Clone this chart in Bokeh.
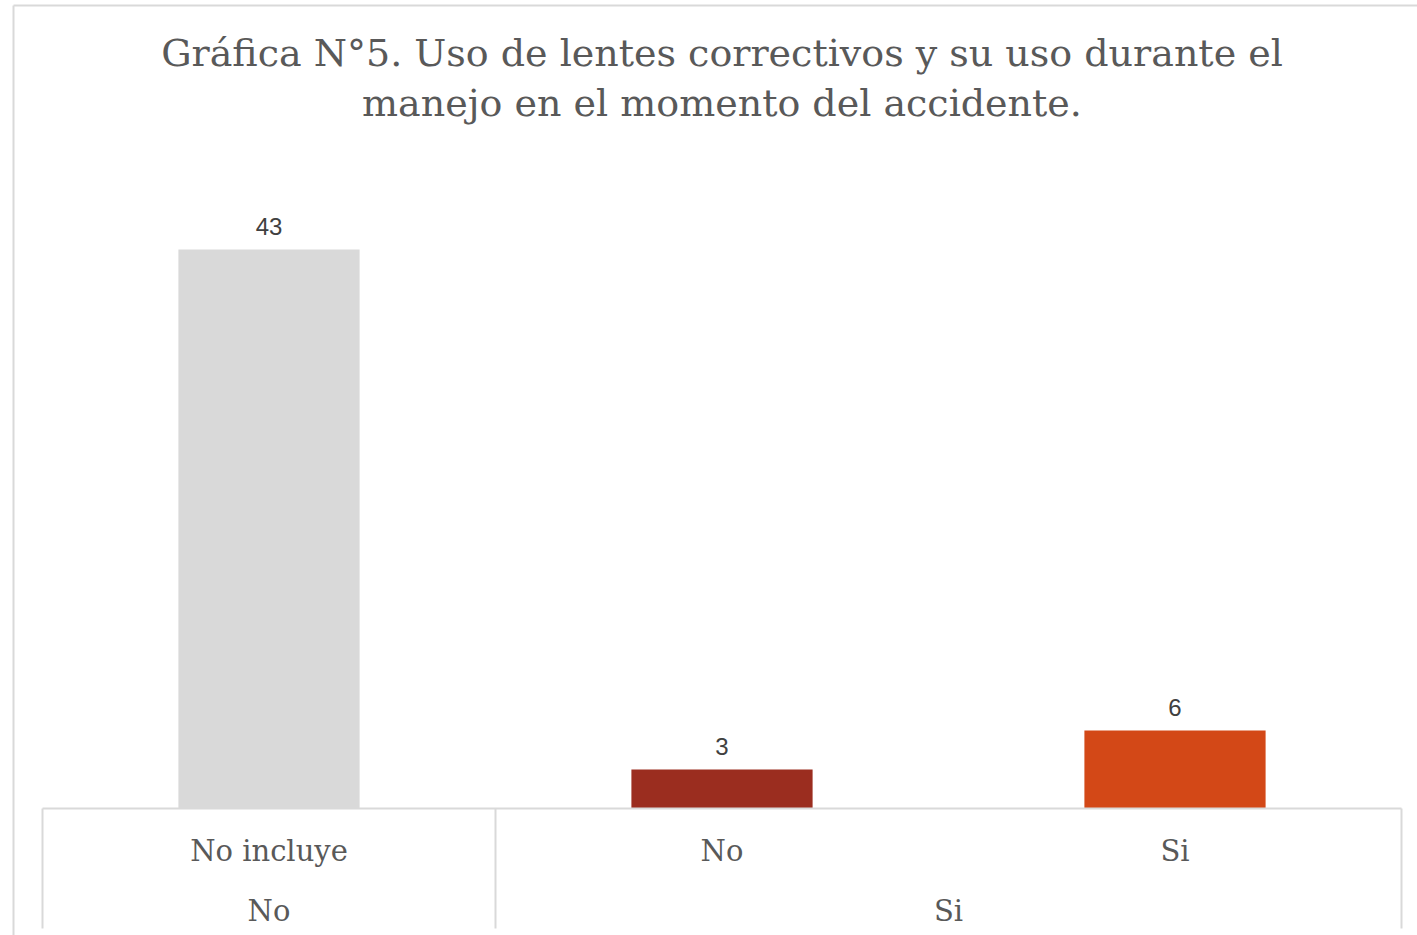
from bokeh.plotting import figure
from bokeh.models import Range1d, ColumnDataSource
from bokeh.core.properties import value
from bokeh.embed import file_html
from bokeh.resources import INLINE

# ---- data ----
groups = ["No", "Si", "Si"]
subcats = ["No incluye", "No", "Si"]
values = [43, 3, 6]
colors = ["#D9D9D9", "#9B2D1F", "#D34817"]
title_lines = ["Gráfica N°5. Uso de lentes correctivos y su uso durante el",
               "manejo en el momento del accidente."]

# ---- layout (pixels) ----
W, H = 1417, 935
LEFT = 42          # left edge of category area
CAT_W = 453        # width of one category
BASE = 808         # baseline pixel
UNIT = 13          # pixels per value unit
GRID = "#D9D9D9"
TXT = "#595959"
SERIF = value("DejaVu Serif")

def px_x(px):
    return (px - LEFT) / CAT_W

def px_y(py):
    return (BASE - py) / UNIT

n = len(values)
p = figure(width=W, height=H, output_backend="svg", toolbar_location=None,
           x_range=Range1d(px_x(0), px_x(W)), y_range=Range1d(px_y(H), px_y(0)),
           min_border=0, x_axis_location=None, y_axis_location=None)
p.grid.visible = False
p.outline_line_color = None
p.background_fill_color = "white"
p.border_fill_color = "white"

# outer chart border (extends beyond window on right/bottom)
p.segment(x0=[px_x(13), px_x(13)], y0=[px_y(5), px_y(5)],
          x1=[px_x(W + 20), px_x(13)], y1=[px_y(5), px_y(H + 20)],
          line_color=GRID, line_width=2)

# bars
xs = [i + 0.5 for i in range(n)]
src = ColumnDataSource(dict(x=xs, top=values, color=colors,
                            lab=[str(v) for v in values], sub=subcats))
p.vbar(x="x", top="top", bottom=0, width=0.4, fill_color="color",
       line_color=None, source=src)

# value labels
p.text(x="x", y="top", text="lab", source=src, y_offset=-15,
       text_align="center", text_baseline="bottom",
       text_font=value("Liberation Sans"), text_font_size="24px",
       text_color="#404040")

# category table
table_bottom = px_y(928)
p.segment(x0=[0], y0=[0], x1=[n], y1=[0], line_color=GRID, line_width=2)
bounds = [0] + [i for i in range(1, n) if groups[i] != groups[i - 1]] + [n]
p.segment(x0=bounds, y0=[0] * len(bounds), x1=bounds,
          y1=[table_bottom] * len(bounds), line_color=GRID, line_width=2)

p.text(x="x", y=0, text="sub", source=src, y_offset=42,
       text_align="center", text_baseline="middle",
       text_font=SERIF, text_font_size="29px", text_color=TXT)

g_names = [groups[bounds[k]] for k in range(len(bounds) - 1)]
g_x = [(bounds[k] + bounds[k + 1]) / 2 for k in range(len(bounds) - 1)]
p.text(x=g_x, y=[0] * len(g_x), text=g_names, y_offset=102,
       text_align="center", text_baseline="middle",
       text_font=SERIF, text_font_size="29px", text_color=TXT)

# title
p.text(x=[n / 2] * 2, y=[px_y(52), px_y(102)], text=title_lines,
       text_align="center", text_baseline="middle",
       text_font=SERIF, text_font_size="38px", text_color=TXT)

open("out.html", "w").write(file_html(p, INLINE))
